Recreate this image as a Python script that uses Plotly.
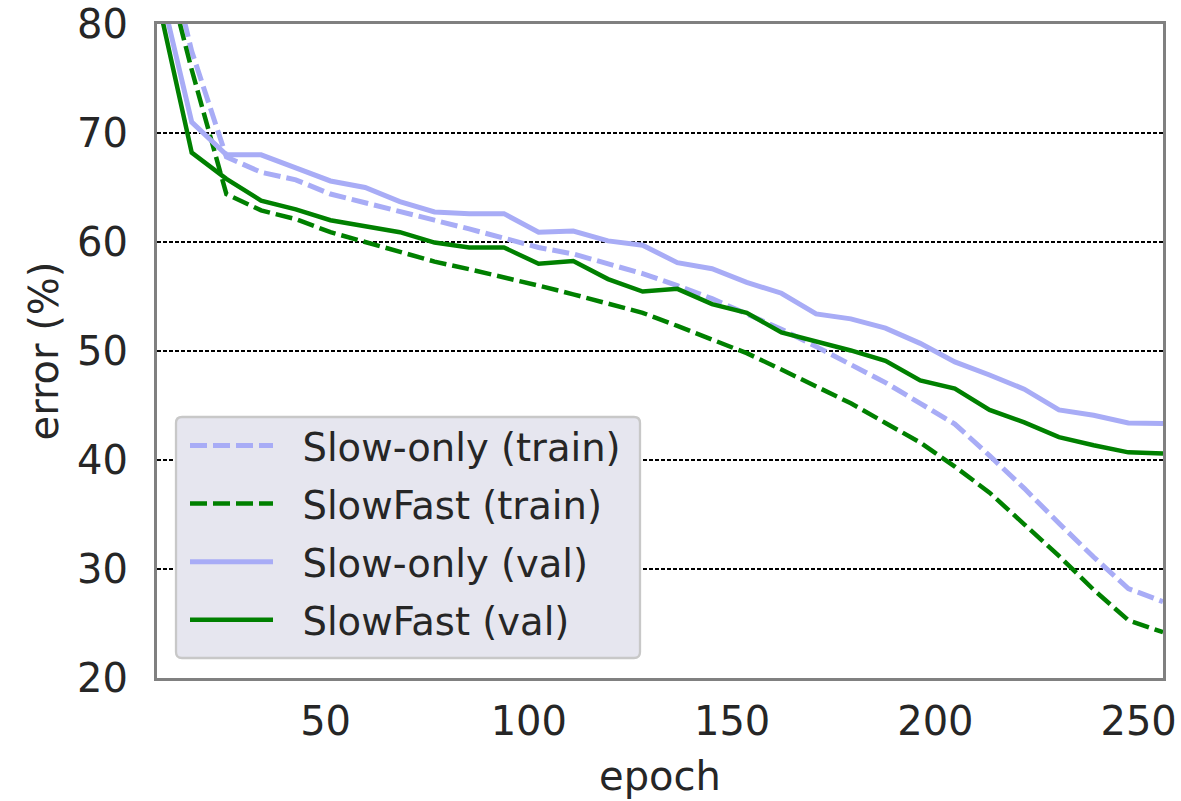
import plotly.graph_objects as go

epochs = [8.53, 17.07, 25.6, 34.13, 42.67, 51.2, 59.73, 68.27, 76.8, 85.33,
          93.87, 102.4, 110.93, 119.47, 128.0, 136.53, 145.07, 153.6, 162.13, 170.67,
          179.2, 187.73, 196.27, 204.8, 213.33, 221.87, 230.4, 238.93, 247.47, 256.0]

slow_train = [90.6, 77.5, 67.8, 66.4, 65.7, 64.4, 63.6, 62.75, 62.0, 61.2,
              60.4, 59.5, 58.9, 58.0, 57.1, 56.0, 54.8, 53.4, 52.0, 50.4,
              48.7, 47.1, 45.2, 43.3, 40.4, 37.4, 34.2, 31.1, 28.2, 27.0]
fast_train = [88.2, 75.8, 64.4, 62.9, 62.1, 60.9, 60.0, 59.1, 58.2, 57.5,
              56.8, 56.0, 55.2, 54.4, 53.5, 52.3, 51.1, 49.8, 48.3, 46.8,
              45.2, 43.4, 41.6, 39.4, 37.0, 34.1, 31.2, 28.1, 25.3, 24.2]
slow_val = [84.5, 71.0, 68.0, 68.0, 66.8, 65.6, 65.0, 63.7, 62.75, 62.6,
            62.6, 60.9, 61.0, 60.1, 59.7, 58.1, 57.55, 56.3, 55.3, 53.4,
            52.95, 52.1, 50.7, 49.0, 47.8, 46.5, 44.6, 44.1, 43.4, 43.35]
fast_val = [82.6, 68.2, 65.8, 63.8, 63.0, 62.0, 61.45, 60.9, 59.95, 59.5,
            59.5, 58.0, 58.25, 56.6, 55.45, 55.7, 54.3, 53.5, 51.7, 50.9,
            50.05, 49.1, 47.3, 46.55, 44.6, 43.45, 42.1, 41.35, 40.7, 40.6]

x_ticks = [50, 100, 150, 200, 250]
y_ticks = [20, 30, 40, 50, 60, 70, 80]

BLUE = "#a8acf6"
GREEN = "#008000"
TXT = "#262626"
FONT = "DejaVu Sans"
NB = "\u00a0\u00a0"

series = [
    ("Slow-only (train)", slow_train, BLUE, "17px,6px", 5.0),
    ("SlowFast (train)", fast_train, GREEN, "17px,6px", 4.5),
    ("Slow-only (val)", slow_val, BLUE, "solid", 5.0),
    ("SlowFast (val)", fast_val, GREEN, "solid", 4.5),
]

fig = go.Figure()
for i, (name, ys, col, dash, w) in enumerate(series):
    fig.add_trace(go.Scatter(x=epochs, y=ys, mode="lines", name=NB + name,
                             legendgroup=f"g{i}",
                             line=dict(color=col, width=w, dash=dash)))

W, H = 1181, 801
L, R, T, B = 157, 18, 24, 123
pw, ph = W - L - R, H - T - B

def px2paper(x, y):
    return (x - L) / pw, (H - B - y) / ph

x0, y0 = px2paper(176, 417)
x1, y1 = px2paper(640, 658)
rx, ry = 6 / pw, 6 / ph
path = (f"M{x0+rx},{y0} L{x1-rx},{y0} Q{x1},{y0} {x1},{y0-ry} "
        f"L{x1},{y1+ry} Q{x1},{y1} {x1-rx},{y1} L{x0+rx},{y1} "
        f"Q{x0},{y1} {x0},{y1+ry} L{x0},{y0-ry} Q{x0},{y0} {x0+rx},{y0} Z")

fig.update_layout(
    width=W, height=H,
    margin=dict(l=L, r=R, t=T, b=B, pad=0, autoexpand=False),
    paper_bgcolor="white", plot_bgcolor="white",
    font=dict(family=FONT, color=TXT, size=40),
    showlegend=True,
    legend=dict(x=(185 - L) / pw, y=px2paper(0, 414)[1], xanchor="left", yanchor="top",
                bgcolor="rgba(0,0,0,0)", borderwidth=0,
                font=dict(family=FONT, size=38.5, color=TXT),
                itemwidth=83, tracegroupgap=5),
    shapes=[dict(type="path", path=path, xref="paper", yref="paper",
                 fillcolor="#e6e6ef", line=dict(color="#c8c8c8", width=2.3),
                 layer="above")],
    xaxis=dict(range=[epochs[0], epochs[-1]], tickvals=x_ticks,
               ticktext=[str(v) for v in x_ticks], automargin=False,
               showgrid=False, zeroline=False,
               showline=True, mirror=True, linecolor="#808080", linewidth=3,
               ticks="outside", ticklen=6, tickcolor="rgba(0,0,0,0)",
               tickfont=dict(size=40, family=FONT, color=TXT),
               title=dict(text="epoch", font=dict(size=40, family=FONT, color=TXT), standoff=19)),
    yaxis=dict(range=[20, 80], tickvals=y_ticks,
               ticktext=[str(v) for v in y_ticks], automargin=False,
               showgrid=True, gridcolor="black", gridwidth=1.5, griddash="4px,2px",
               zeroline=False,
               showline=True, mirror=True, linecolor="#808080", linewidth=3,
               ticks="outside", ticklen=18, tickcolor="rgba(0,0,0,0)",
               tickfont=dict(size=40, family=FONT, color=TXT),
               title=dict(text="error (%)", font=dict(size=40, family=FONT, color=TXT), standoff=7)),
)

fig.write_html("out.html", config={"displayModeBar": False},
               post_script="document.body.style.margin='0';")
